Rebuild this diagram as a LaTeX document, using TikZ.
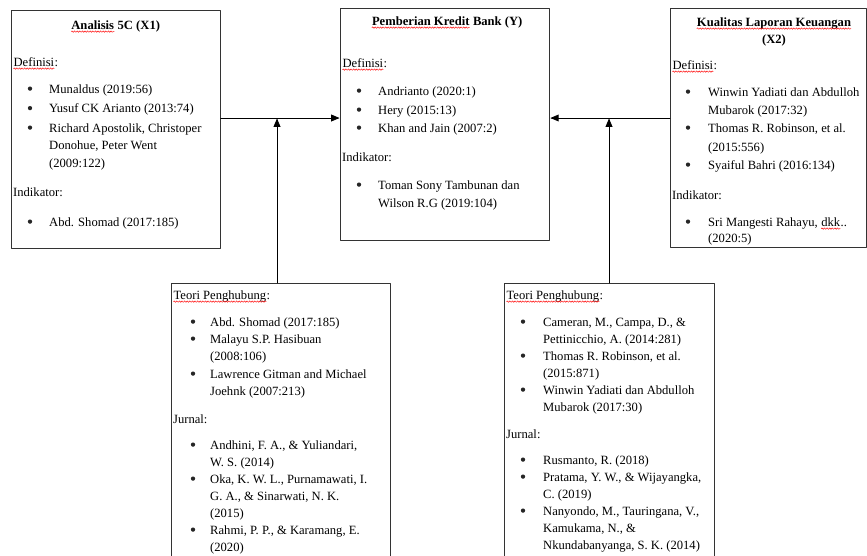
\documentclass[tikz,border=0pt]{standalone}
\usepackage{fontspec}
\setmainfont{Liberation Serif}
\usetikzlibrary{arrows,decorations.pathmorphing}
\newcommand\redwave[1]{\tikz[baseline=(w.base)]{\node[inner sep=0pt,anchor=base west,font={}] (w) at (0,0) {#1};
  \draw[red, line width=0.45pt, decorate, decoration={snake, amplitude=0.7pt, segment length=2.6pt}] ([yshift=-2.6pt]w.base west) -- ([yshift=-2.6pt]w.base east);}}
\tikzset{
  box/.style={draw=black!80, line width=0.9pt, anchor=north west, inner sep=0pt},
  txt/.style={anchor=base west, inner sep=0pt},
  ttl/.style={anchor=base, inner sep=0pt, font=\fontsize{12.6}{15}\selectfont\bfseries},
  bul/.style={circle, fill=black!85, inner sep=0pt, minimum size=4.3pt, yshift=4.4pt},
  arr/.style={->, line width=0.9pt, shorten >=0.5pt},
}
\begin{document}
\begin{tikzpicture}[line cap=round,line join=round,>=triangle 45,x=1pt,y=-1pt,font=\fontsize{12.6}{15}\selectfont]
\useasboundingbox (0,0) rectangle (867,555);

\node[box, minimum width=209pt, minimum height=238pt] (xone) at (11,10) {};
\node[box, minimum width=209pt, minimum height=232pt] (ykb) at (340,8) {};
\node[box, minimum width=196pt, minimum height=239pt] (xtwo) at (670,8) {};
\node[box, minimum width=219pt, minimum height=290pt] (teoria) at (171,283) {};
\node[box, minimum width=210pt, minimum height=290pt] (teorib) at (504,283) {};

\coordinate (jl) at (277,118);
\coordinate (jr) at (609,118);
\draw[arr] (jl -| xone.east) -- (jl -| ykb.west);
\draw[arr] (jl |- teoria.north) -- (jl);
\draw[arr] (jr -| xtwo.west) -- (jr -| ykb.east);
\draw[arr] (jr |- teorib.north) -- (jr);

% X1
\node[ttl] (a0) at (115.5,29) {\redwave{Analisis} 5C (X1)};
\node[txt] (a1) at (13,66) {\redwave{Definisi}:};
\node[bul] (ab1) at (30,93) {};
\node[txt] (a2) at (49,93) {Munaldus (2019:56)};
\node[bul] (ab2) at (30,112.5) {};
\node[txt] (a3) at (49,112.5) {Yusuf CK Arianto (2013:74)};
\node[bul] (ab3) at (30,132) {};
\node[txt] (a4) at (49,132) {Richard Apostolik, Christoper};
\node[txt] (a5) at (49,149.5) {Donohue, Peter Went};
\node[txt] (a6) at (49,167) {(2009:122)};
\node[txt] (a7) at (13,196) {Indikator:};
\node[bul] (ab4) at (30,226) {};
\node[txt] (a8) at (49,226) {Abd. Shomad (2017:185)};

% Y
\node[ttl] (y0) at (447,25) {\redwave{Pemberian Kredit} Bank (Y)};
\node[txt] (y1) at (342,67) {\redwave{Definisi}:};
\node[bul] (yb1) at (359,95) {};
\node[txt] (y2) at (378,95) {Andrianto (2020:1)};
\node[bul] (yb2) at (359,114) {};
\node[txt] (y3) at (378,114) {Hery (2015:13)};
\node[bul] (yb3) at (359,132) {};
\node[txt] (y4) at (378,132) {Khan and Jain (2007:2)};
\node[txt] (y5) at (342,161) {Indikator:};
\node[bul] (yb4) at (359,189) {};
\node[txt] (y6) at (378,189) {Toman Sony Tambunan dan};
\node[txt] (y7) at (378,207) {Wilson R.G (2019:104)};

% X2
\node[ttl] (b0) at (774,26) {\redwave{Kualitas Laporan Keuangan}};
\node[ttl] (b1) at (774,43) {(X2)};
\node[txt] (b2) at (672,69) {\redwave{Definisi}:};
\node[bul] (bb1) at (688,96) {};
\node[txt] (b3) at (708,96) {Winwin Yadiati dan Abdulloh};
\node[txt] (b4) at (708,114) {Mubarok (2017:32)};
\node[bul] (bb2) at (688,132) {};
\node[txt] (b5) at (708,132) {Thomas R. Robinson, et al.};
\node[txt] (b6) at (708,151) {(2015:556)};
\node[bul] (bb3) at (688,169) {};
\node[txt] (b7) at (708,169) {Syaiful Bahri (2016:134)};
\node[txt] (b8) at (672,199) {Indikator:};
\node[bul] (bb4) at (688,226) {};
\node[txt] (b9) at (708,226) {Sri Mangesti Rahayu, \redwave{dkk}..};
\node[txt] (b10) at (708,242) {(2020:5)};

% teori penghubung X1
\node[txt] (p0) at (173,299) {\redwave{Teori Penghubung}:};
\node[bul] (pb1) at (193,326) {};
\node[txt] (p1) at (210,326) {Abd. Shomad (2017:185)};
\node[bul] (pb2) at (193,343) {};
\node[txt] (p2) at (210,343) {Malayu S.P. Hasibuan};
\node[txt] (p3) at (210,360) {(2008:106)};
\node[bul] (pb3) at (193,378) {};
\node[txt] (p4) at (210,378) {Lawrence Gitman and Michael};
\node[txt] (p5) at (210,395) {Joehnk (2007:213)};
\node[txt] (p6) at (173,423) {Jurnal:};
\node[bul] (pb4) at (193,449) {};
\node[txt] (p7) at (210,449) {Andhini, F. A., \& Yuliandari,};
\node[txt] (p8) at (210,466) {W. S. (2014)};
\node[bul] (pb5) at (193,483) {};
\node[txt] (p9) at (210,483) {Oka, K. W. L., Purnamawati, I.};
\node[txt] (p10) at (210,500) {G. A., \& Sinarwati, N. K.};
\node[txt] (p11) at (210,517) {(2015)};
\node[bul] (pb6) at (193,534) {};
\node[txt] (p12) at (210,534) {Rahmi, P. P., \& Karamang, E.};
\node[txt] (p13) at (210,551) {(2020)};

% teori penghubung X2
\node[txt] (q0) at (506,299) {\redwave{Teori Penghubung}:};
\node[bul] (qb1) at (523,326) {};
\node[txt] (q1) at (543,326) {Cameran, M., Campa, D., \&};
\node[txt] (q2) at (543,343) {Pettinicchio, A. (2014:281)};
\node[bul] (qb2) at (523,360) {};
\node[txt] (q3) at (543,360) {Thomas R. Robinson, et al.};
\node[txt] (q4) at (543,377) {(2015:871)};
\node[bul] (qb3) at (523,394) {};
\node[txt] (q5) at (543,394) {Winwin Yadiati dan Abdulloh};
\node[txt] (q6) at (543,411) {Mubarok (2017:30)};
\node[txt] (q7) at (506,438) {Jurnal:};
\node[bul] (qb4) at (523,464) {};
\node[txt] (q8) at (543,464) {Rusmanto, R. (2018)};
\node[bul] (qb5) at (523,481) {};
\node[txt] (q9) at (543,481) {Pratama, Y. W., \& Wijayangka,};
\node[txt] (q10) at (543,498) {C. (2019)};
\node[bul] (qb6) at (523,515) {};
\node[txt] (q11) at (543,515) {Nanyondo, M., Tauringana, V.,};
\node[txt] (q12) at (543,532) {Kamukama, N., \&};
\node[txt] (q13) at (543,549) {Nkundabanyanga, S. K. (2014)};
\end{tikzpicture}
\end{document}
